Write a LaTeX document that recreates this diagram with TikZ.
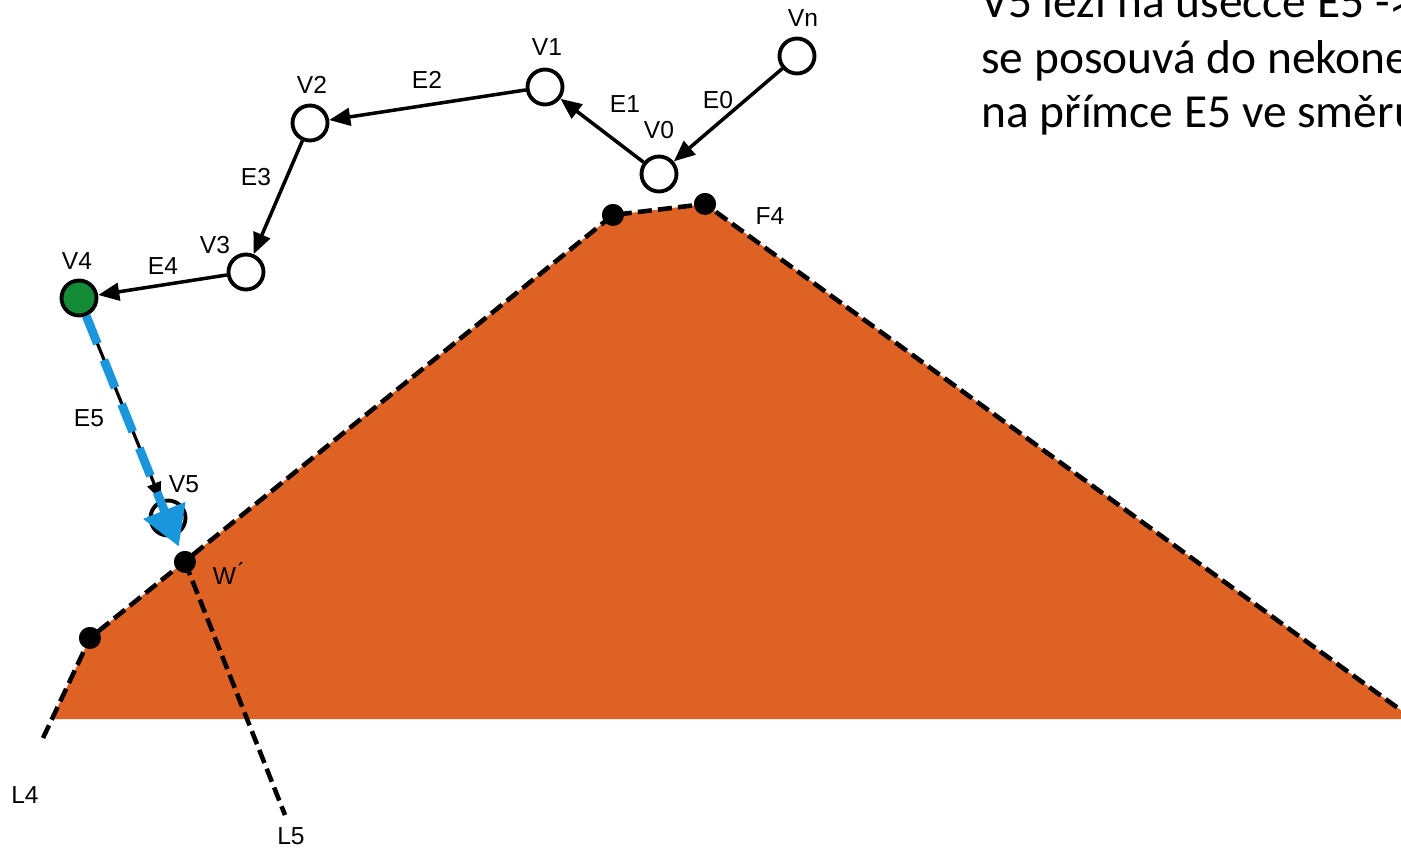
\documentclass[tikz,border=0pt]{standalone}
\usepackage{fontspec}
\setmainfont{Liberation Sans}
\newfontfamily\notefont{Carlito}
\usetikzlibrary{arrows.meta}

\definecolor{hull}{RGB}{222,98,36}
\definecolor{vgreen}{RGB}{20,140,55}
\definecolor{eblue}{RGB}{25,150,220}

\tikzset{
  vert/.style={circle,draw,line width=2.2pt,fill=white,minimum size=0.7cm,inner sep=0pt},
  dot/.style={circle,fill=black,minimum size=0.44cm,inner sep=0pt},
  edge/.style={line width=2pt,-{Triangle[length=12pt,width=10pt]}},
  hulledge/.style={line width=2.6pt,dash pattern=on 8pt off 3.5pt},
  lbl/.style={font=\fontsize{14}{16}\selectfont},
  note/.style={anchor=base west,font=\notefont\fontsize{27}{32}\selectfont},
}

\begin{document}
\begin{tikzpicture}[x=0.02cm,y=-0.02cm]
\useasboundingbox (0,0) rectangle (1401,849);
\clip (0,0) rectangle (1401,849);

\coordinate (P0) at (52,719);
\coordinate (P4) at (1413,719);
\coordinate (L4end) at (43,738);
\coordinate (L5end) at (285,815);

\node[dot] (D1) at (90,638) {};
\node[dot] (D2) at (613,215) {};
\node[dot] (D3) at (705,204) {};
\node[dot] (W) at (185,562) {};

% hull
\fill[hull] (P0)--(D1.center)--(D2.center)--(D3.center)--(P4)--cycle;
\draw[hulledge] (L4end)--(P0)--(D1.center)--(D2.center)--(D3.center)--(P4);
\draw[hulledge] (W.center)--(L5end);

\foreach \P in {D1,D2,D3,W}
    \fill (\P) circle (0.22cm);

% polygon
\node[vert] (Vn) at (797,56) {};
\node[vert] (V0) at (659,174) {};
\node[vert] (V1) at (545,87) {};
\node[vert] (V2) at (310,123) {};
\node[vert] (V3) at (246,272) {};
\node[vert,fill=vgreen] (V4) at (79,298) {};
\node[vert] (V5) at (168,518) {};

\draw[edge] (Vn) -- (V0);
\draw[edge] (V0) -- (V1);
\draw[edge] (V1) -- (V2);
\draw[edge] (V2) -- (V3);
\draw[edge] (V3) -- (V4);
\draw[line width=1.8pt,-{Triangle[length=10pt,width=8pt]}] (V4) -- (V5);
\draw[eblue,line width=5pt,dash pattern=on 17pt off 10pt,shorten >=3pt,
  -{Triangle[length=0.78cm,width=0.86cm]}] (V4) -- (W);

\node[lbl] (tVn) at (803,18) {Vn};
\node[lbl] (tV1) at (547,47) {V1};
\node[lbl] (tV0) at (659,130) {V0};
\node[lbl] (tV2) at (312,85) {V2};
\node[lbl] (tV3) at (215,245) {V3};
\node[lbl] (tV4) at (77,261) {V4};
\node[lbl] (tV5) at (184,484) {V5};
\node[lbl] (tE0) at (718,100) {E0};
\node[lbl] (tE1) at (625,104) {E1};
\node[lbl] (tE2) at (427,80) {E2};
\node[lbl] (tE3) at (256,177) {E3};
\node[lbl] (tE4) at (163,266) {E4};
\node[lbl] (tE5) at (89,418) {E5};
\node[lbl] (tW) at (228,574) {W\'{}};
\node[lbl] (tF4) at (770,216) {F4};
\node[lbl] (tL4) at (25,795) {L4};
\node[lbl] (tL5) at (291,836) {L5};

\node[note] (note1) at (975,17) {V5 leží na úsečce E5 ->};
\node[note] (note2) at (975,73) {se posouvá do nekonečna};
\node[note] (note3) at (975,127) {na přímce E5 ve směru};

\end{tikzpicture}
\end{document}
